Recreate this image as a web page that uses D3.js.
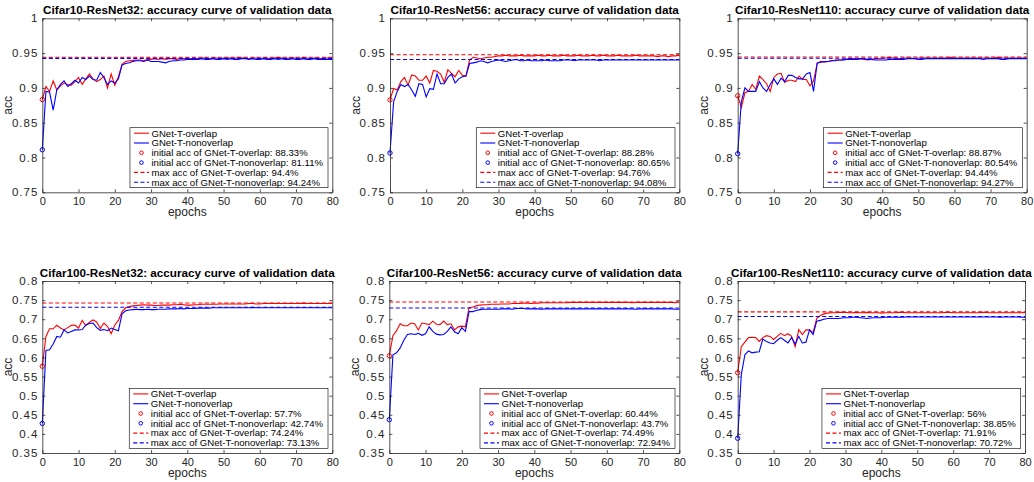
<!DOCTYPE html>
<html>
<head>
<meta charset="utf-8">
<script src="https://cdn.jsdelivr.net/npm/d3@7"></script>
<style>
  body { margin: 0; background: #fff; }
  svg text { font-family: "Liberation Sans", Arial, Helvetica, sans-serif; }
</style>
</head>
<body>
<svg id="chart" width="1034" height="482"></svg>
<script>
// ---- data ----
const titles = [
  "Cifar10-ResNet32: accuracy curve of validation data",
  "Cifar10-ResNet56: accuracy curve of validation data",
  "Cifar10-ResNet110: accuracy curve of validation data",
  "Cifar100-ResNet32: accuracy curve of validation data",
  "Cifar100-ResNet56: accuracy curve of validation data",
  "Cifar100-ResNet110: accuracy curve of validation data"
];
const seriesNames = ["GNet-T-overlap", "GNet-T-nonoverlap"];
const xTicks = [0, 10, 20, 30, 40, 50, 60, 70, 80];
const yTicksCifar10 = [0.75, 0.8, 0.85, 0.9, 0.95, 1];
const yTicksCifar100 = [0.35, 0.4, 0.45, 0.5, 0.55, 0.6, 0.65, 0.7, 0.75, 0.8];

const initOverlap = [0.8833, 0.8828, 0.8887, 0.577, 0.6044, 0.56];
const initNonoverlap = [0.8111, 0.8065, 0.8054, 0.4274, 0.437, 0.3885];
const maxOverlap = [0.944, 0.9476, 0.9444, 0.7424, 0.7449, 0.7191];
const maxNonoverlap = [0.9424, 0.9408, 0.9427, 0.7313, 0.7294, 0.7072];

const c10r32Overlap = [0.8833,0.902,0.895,0.910,0.897,0.903,0.907,0.905,0.904,0.909,
  0.915,0.905,0.913,0.920,0.913,0.909,0.912,0.917,0.900,0.920,
  0.904,0.916,0.934,0.938,0.939,0.9395,0.940,0.940,0.939,0.941,
  0.941,0.942,0.941,0.942,0.941,0.942,0.942,0.941,0.942,0.942,
  0.943,0.942,0.943,0.942,0.943,0.943,0.942,0.943,0.943,0.942,
  0.943,0.943,0.943,0.942,0.944,0.943,0.943,0.942,0.943,0.943,
  0.942,0.943,0.943,0.942,0.943,0.944,0.943,0.942,0.943,0.943,
  0.943,0.942,0.944,0.943,0.942,0.943,0.943,0.942,0.943,0.943,0.943];
const c10r32Nonoverlap = [0.8111,0.895,0.894,0.868,0.897,0.905,0.910,0.902,0.906,0.911,
  0.907,0.915,0.912,0.917,0.912,0.911,0.922,0.915,0.905,0.910,
  0.907,0.913,0.933,0.935,0.936,0.938,0.939,0.939,0.938,0.940,
  0.938,0.938,0.938,0.937,0.936,0.938,0.939,0.939,0.940,0.940,
  0.941,0.941,0.941,0.941,0.942,0.941,0.941,0.942,0.941,0.941,
  0.942,0.941,0.942,0.941,0.941,0.942,0.942,0.941,0.942,0.941,
  0.941,0.942,0.941,0.941,0.942,0.941,0.942,0.941,0.941,0.942,
  0.941,0.941,0.942,0.941,0.941,0.942,0.941,0.941,0.941,0.941,0.941];

const c10r56Overlap = [0.8828,0.899,0.897,0.909,0.915,0.904,0.9185,0.917,0.911,0.911,
  0.917,0.907,0.925,0.924,0.920,0.908,0.926,0.921,0.916,0.925,
  0.918,0.917,0.940,0.944,0.943,0.942,0.943,0.944,0.944,0.945,
  0.946,0.946,0.947,0.946,0.946,0.946,0.947,0.946,0.946,0.946,
  0.946,0.947,0.946,0.946,0.947,0.946,0.946,0.946,0.947,0.946,
  0.946,0.946,0.947,0.946,0.946,0.946,0.947,0.946,0.946,0.947,
  0.946,0.946,0.946,0.947,0.946,0.946,0.946,0.946,0.947,0.946,
  0.946,0.946,0.946,0.946,0.945,0.946,0.946,0.945,0.946,0.946,0.947];
const c10r56Nonoverlap = [0.8065,0.880,0.895,0.905,0.902,0.905,0.897,0.888,0.906,0.905,
  0.887,0.899,0.898,0.920,0.906,0.906,0.915,0.920,0.907,0.913,
  0.916,0.917,0.935,0.936,0.937,0.939,0.938,0.936,0.938,0.939,
  0.940,0.939,0.938,0.939,0.940,0.941,0.939,0.939,0.940,0.939,
  0.939,0.939,0.939,0.940,0.939,0.939,0.939,0.939,0.940,0.940,
  0.940,0.939,0.940,0.940,0.940,0.940,0.940,0.940,0.939,0.940,
  0.940,0.940,0.940,0.940,0.940,0.940,0.940,0.940,0.940,0.940,
  0.940,0.940,0.940,0.940,0.940,0.940,0.940,0.940,0.940,0.940,0.940];

const c10r110Overlap = [0.8887,0.872,0.893,0.895,0.905,0.898,0.917,0.912,0.906,0.895,
  0.915,0.920,0.921,0.908,0.911,0.911,0.909,0.917,0.912,0.912,
  0.903,0.910,0.935,0.938,0.937,0.938,0.939,0.940,0.940,0.940,
  0.941,0.942,0.942,0.941,0.942,0.941,0.940,0.941,0.942,0.942,
  0.943,0.943,0.944,0.943,0.943,0.942,0.943,0.943,0.943,0.942,
  0.943,0.943,0.943,0.943,0.943,0.943,0.943,0.943,0.943,0.944,
  0.943,0.943,0.943,0.943,0.943,0.943,0.943,0.943,0.943,0.943,
  0.943,0.943,0.944,0.943,0.943,0.943,0.943,0.943,0.943,0.943,0.943];
const c10r110Nonoverlap = [0.8054,0.880,0.900,0.895,0.895,0.895,0.909,0.900,0.895,0.905,
  0.913,0.905,0.914,0.909,0.918,0.918,0.915,0.913,0.913,0.920,
  0.922,0.895,0.936,0.937,0.938,0.938,0.939,0.939,0.940,0.940,
  0.941,0.941,0.941,0.941,0.942,0.942,0.941,0.941,0.940,0.940,
  0.940,0.940,0.941,0.941,0.941,0.941,0.941,0.942,0.942,0.942,
  0.941,0.941,0.942,0.942,0.942,0.942,0.942,0.942,0.942,0.942,
  0.942,0.942,0.942,0.942,0.942,0.942,0.942,0.942,0.941,0.942,
  0.942,0.942,0.942,0.941,0.941,0.942,0.942,0.942,0.942,0.942,0.942];

const c100r32Overlap = [0.577,0.655,0.675,0.675,0.684,0.677,0.672,0.678,0.684,0.685,
  0.677,0.697,0.683,0.692,0.698,0.693,0.676,0.690,0.681,0.662,
  0.685,0.697,0.720,0.730,0.733,0.735,0.736,0.737,0.738,0.737,
  0.737,0.736,0.736,0.737,0.737,0.737,0.738,0.738,0.739,0.738,
  0.737,0.737,0.738,0.738,0.739,0.739,0.739,0.739,0.739,0.740,
  0.740,0.740,0.740,0.740,0.740,0.740,0.740,0.741,0.741,0.740,
  0.740,0.741,0.741,0.741,0.741,0.741,0.741,0.741,0.741,0.741,
  0.741,0.741,0.742,0.741,0.741,0.741,0.741,0.741,0.741,0.741,0.742];
const c100r32Nonoverlap = [0.4274,0.618,0.620,0.635,0.655,0.653,0.672,0.664,0.668,0.672,
  0.672,0.673,0.685,0.689,0.690,0.678,0.671,0.673,0.670,0.677,
  0.673,0.670,0.714,0.722,0.724,0.725,0.726,0.725,0.725,0.726,
  0.725,0.725,0.726,0.726,0.726,0.727,0.727,0.727,0.728,0.727,
  0.728,0.728,0.728,0.729,0.729,0.729,0.729,0.730,0.730,0.730,
  0.730,0.730,0.730,0.730,0.730,0.730,0.730,0.730,0.731,0.730,
  0.730,0.730,0.730,0.730,0.730,0.730,0.730,0.730,0.730,0.730,
  0.730,0.730,0.730,0.730,0.730,0.730,0.730,0.730,0.730,0.730,0.730];

const c100r56Overlap = [0.6044,0.657,0.670,0.688,0.683,0.683,0.690,0.688,0.672,0.690,
  0.688,0.686,0.695,0.687,0.686,0.695,0.686,0.688,0.672,0.680,
  0.682,0.680,0.730,0.732,0.735,0.737,0.738,0.738,0.739,0.739,
  0.739,0.740,0.740,0.740,0.741,0.741,0.741,0.742,0.742,0.741,
  0.742,0.742,0.743,0.743,0.743,0.743,0.743,0.743,0.743,0.743,
  0.744,0.744,0.744,0.744,0.744,0.744,0.744,0.744,0.744,0.744,
  0.744,0.744,0.744,0.744,0.744,0.744,0.744,0.743,0.744,0.744,
  0.744,0.744,0.744,0.744,0.744,0.744,0.744,0.744,0.744,0.743,0.745];
const c100r56Nonoverlap = [0.437,0.607,0.612,0.625,0.645,0.660,0.662,0.660,0.663,0.658,
  0.662,0.680,0.668,0.661,0.659,0.660,0.668,0.680,0.667,0.662,
  0.678,0.668,0.720,0.720,0.723,0.725,0.726,0.726,0.726,0.726,
  0.726,0.727,0.727,0.727,0.726,0.728,0.728,0.728,0.727,0.727,
  0.727,0.727,0.726,0.727,0.727,0.727,0.727,0.727,0.727,0.727,
  0.727,0.727,0.727,0.727,0.727,0.727,0.727,0.727,0.727,0.727,
  0.727,0.727,0.727,0.727,0.727,0.727,0.727,0.727,0.726,0.727,
  0.727,0.727,0.727,0.727,0.727,0.727,0.727,0.727,0.727,0.726,0.726];

const c100r110Overlap = [0.560,0.628,0.640,0.652,0.653,0.652,0.642,0.652,0.657,0.655,
  0.647,0.655,0.663,0.657,0.662,0.655,0.628,0.673,0.660,0.672,
  0.672,0.665,0.702,0.710,0.714,0.716,0.717,0.717,0.718,0.718,
  0.718,0.717,0.717,0.718,0.717,0.717,0.718,0.717,0.717,0.717,
  0.716,0.717,0.717,0.717,0.717,0.718,0.718,0.717,0.717,0.717,
  0.717,0.717,0.717,0.717,0.717,0.717,0.717,0.717,0.718,0.718,
  0.717,0.717,0.717,0.717,0.717,0.717,0.717,0.717,0.718,0.718,
  0.717,0.717,0.717,0.717,0.717,0.717,0.717,0.717,0.717,0.717,0.718];
const c100r110Nonoverlap = [0.3885,0.555,0.607,0.617,0.612,0.614,0.615,0.648,0.642,0.638,
  0.636,0.645,0.652,0.645,0.638,0.652,0.635,0.655,0.638,0.640,
  0.672,0.660,0.695,0.697,0.700,0.702,0.702,0.702,0.702,0.703,
  0.704,0.704,0.705,0.705,0.704,0.703,0.702,0.703,0.704,0.704,
  0.704,0.705,0.705,0.705,0.705,0.705,0.705,0.706,0.706,0.706,
  0.706,0.706,0.706,0.706,0.706,0.706,0.706,0.706,0.706,0.706,
  0.706,0.706,0.706,0.706,0.706,0.706,0.706,0.706,0.706,0.706,
  0.706,0.706,0.706,0.705,0.706,0.706,0.706,0.706,0.706,0.705,0.705];

const overlapSeries = [c10r32Overlap, c10r56Overlap, c10r110Overlap, c100r32Overlap, c100r56Overlap, c100r110Overlap];
const nonoverlapSeries = [c10r32Nonoverlap, c10r56Nonoverlap, c10r110Nonoverlap, c100r32Nonoverlap, c100r56Nonoverlap, c100r110Nonoverlap];

// ---- layout ----
const boxes = [
  { x: 42.3, y: 18.3, w: 290, h: 174 },
  { x: 390, y: 18.3, w: 289.3, h: 174 },
  { x: 737.7, y: 18.3, w: 289, h: 174 },
  { x: 42.3, y: 281, w: 290, h: 172 },
  { x: 389.3, y: 281, w: 290, h: 172 },
  { x: 737.7, y: 281, w: 287.3, h: 172 }
];
const red = "#ff0000", blue = "#0000ff", axisColor = "#262626";
const svg = d3.select("#chart");
const pct = (v) => +(v * 100).toFixed(2) + "%";

boxes.forEach((b, i) => draw(b, i));

function draw(b, i) {
  const top = i < 3;
  const yTicks = top ? yTicksCifar10 : yTicksCifar100;
  const g = svg.append("g").attr("transform", `translate(${b.x},${b.y})`);
  const x = d3.scaleLinear().domain([0, 80]).range([0, b.w]);
  const y = d3.scaleLinear().domain(d3.extent(yTicks)).range([b.h, 0]);

  const line = d3.line().x((d, k) => x(k)).y((d) => y(d));

  g.append("path").datum(overlapSeries[i])
    .attr("d", line).attr("fill", "none").attr("stroke", red).attr("stroke-width", 1.1);
  g.append("path").datum(nonoverlapSeries[i])
    .attr("d", line).attr("fill", "none").attr("stroke", blue).attr("stroke-width", 1.1);

  g.append("circle").attr("cx", x(0)).attr("cy", y(initOverlap[i])).attr("r", 2.2)
    .attr("fill", "none").attr("stroke", red).attr("stroke-width", 1);
  g.append("circle").attr("cx", x(0)).attr("cy", y(initNonoverlap[i])).attr("r", 2.2)
    .attr("fill", "none").attr("stroke", blue).attr("stroke-width", 1);

  g.append("line").attr("x1", x(0)).attr("x2", x(80))
    .attr("y1", y(maxOverlap[i])).attr("y2", y(maxOverlap[i]))
    .attr("stroke", red).attr("stroke-width", 1.1).attr("stroke-dasharray", "4,2.5");
  g.append("line").attr("x1", x(0)).attr("x2", x(80))
    .attr("y1", y(maxNonoverlap[i])).attr("y2", y(maxNonoverlap[i]))
    .attr("stroke", blue).attr("stroke-width", 1.1).attr("stroke-dasharray", "4,2.5");

  // axes with inward ticks on all four sides (box on)
  const style = (sel) => {
    sel.selectAll("path, line").attr("stroke", axisColor).attr("stroke-width", 0.8);
    sel.selectAll("text").attr("fill", axisColor).style("font-size", "11px");
  };
  g.append("g").attr("transform", `translate(0,${b.h})`)
    .call(d3.axisBottom(x).tickValues(xTicks).tickSizeInner(-3).tickSizeOuter(0).tickPadding(5))
    .call(style);
  g.append("g")
    .call(d3.axisTop(x).tickValues(xTicks).tickSizeInner(-3).tickSizeOuter(0).tickFormat(""))
    .call(style);
  g.append("g")
    .call(d3.axisLeft(y).tickValues(yTicks).tickSizeInner(-3).tickSizeOuter(0).tickPadding(4).tickFormat(d3.format("~g")))
    .call(style)
    .call((a) => a.selectAll("text").style("font-size", "11.5px").style("letter-spacing", "1px"));
  g.append("g").attr("transform", `translate(${b.w},0)`)
    .call(d3.axisRight(y).tickValues(yTicks).tickSizeInner(-3).tickSizeOuter(0).tickFormat(""))
    .call(style);
  g.selectAll(".domain").attr("fill", "none");

  g.append("text").attr("x", b.w / 2).attr("y", b.h + 24)
    .attr("text-anchor", "middle").attr("fill", axisColor).style("font-size", "12px")
    .text("epochs");
  g.append("text").attr("transform", `translate(-30,${b.h / 2}) rotate(-90)`)
    .attr("text-anchor", "middle").attr("fill", axisColor).style("font-size", "12px")
    .text("acc");
  g.append("text").attr("x", b.w / 2).attr("y", -4)
    .attr("text-anchor", "middle").attr("fill", "#000")
    .style("font-size", "11.7px").style("font-weight", "bold")
    .text(titles[i]);

  // legend
  const entries = [
    { label: seriesNames[0], color: red, kind: "line" },
    { label: seriesNames[1], color: blue, kind: "line" },
    { label: `initial acc of ${seriesNames[0]}: ${pct(initOverlap[i])}`, color: red, kind: "marker" },
    { label: `initial acc of ${seriesNames[1]}: ${pct(initNonoverlap[i])}`, color: blue, kind: "marker" },
    { label: `max acc of ${seriesNames[0]}: ${pct(maxOverlap[i])}`, color: red, kind: "dash" },
    { label: `max acc of ${seriesNames[1]}: ${pct(maxNonoverlap[i])}`, color: blue, kind: "dash" }
  ];
  const rowH = 9.8, legH = 60;
  const leg = g.append("g");
  const box = leg.append("rect").attr("fill", "#fff").attr("stroke", "#000").attr("stroke-width", 0.6);
  const rows = leg.selectAll("g.row").data(entries).join("g")
    .attr("transform", (d, k) => `translate(0,${5.5 + k * rowH})`);
  rows.filter((d) => d.kind !== "marker").append("line")
    .attr("x1", 4).attr("x2", 19).attr("stroke", (d) => d.color).attr("stroke-width", 1.1)
    .attr("stroke-dasharray", (d) => (d.kind === "dash" ? "4,2.5" : null));
  rows.filter((d) => d.kind === "marker").append("circle")
    .attr("cx", 11.5).attr("r", 1.8).attr("fill", "none")
    .attr("stroke", (d) => d.color).attr("stroke-width", 1);
  const texts = rows.append("text").attr("x", 21.5).attr("dy", "0.35em")
    .attr("fill", "#000").style("font-size", "9.6px").text((d) => d.label);
  let maxW = 0;
  texts.each(function () { maxW = Math.max(maxW, this.getComputedTextLength()); });
  const legW = 21.5 + maxW + 5;
  box.attr("width", legW).attr("height", legH);
  leg.attr("transform", `translate(${b.w - 4.3 - legW},${b.h - 4.6 - legH})`);
}
</script>
</body>
</html>
